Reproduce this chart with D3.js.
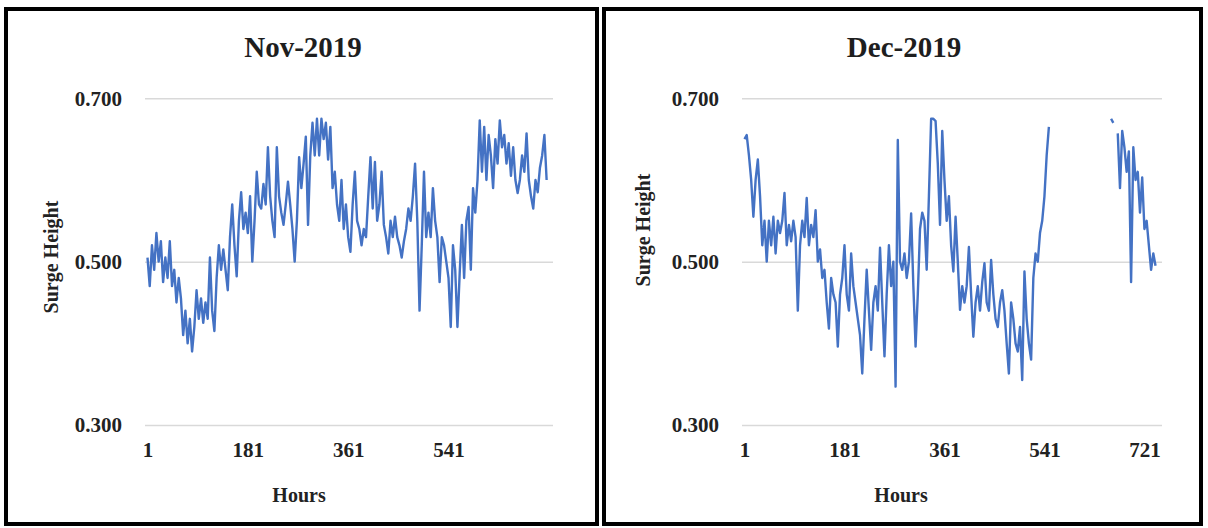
<!DOCTYPE html>
<html>
<head>
<meta charset="utf-8">
<script src="https://cdn.jsdelivr.net/npm/d3@7"></script>
<style>
  body { margin: 0; background: #fff; }
  svg { display: block; }
  .panel-title { font: bold 29px "Liberation Serif", "Times New Roman", serif; fill: #1e1e1e; }
  .axis text { font: bold 21px "Liberation Serif", "Times New Roman", serif; fill: #222; }
  .axis .domain { display: none; }
  .y-axis line { stroke: #d9d9d9; stroke-width: 1.5; }
  .axis-title { font: bold 20px "Liberation Serif", "Times New Roman", serif; fill: #222; }
</style>
</head>
<body>
<svg id="chart" width="1208" height="528"></svg>
<script>
// readings every 4 hours (hour = 1 + 4*i)
const novValues = [
  0.505, 0.47, 0.52, 0.49, 0.535, 0.50, 0.525, 0.475, 0.505, 0.48,
  0.525, 0.47, 0.49, 0.45, 0.48, 0.455, 0.41, 0.44, 0.40, 0.43,
  0.39, 0.42, 0.465, 0.43, 0.455, 0.425, 0.45, 0.43, 0.505, 0.44,
  0.415, 0.48, 0.52, 0.49, 0.515, 0.49, 0.465, 0.53, 0.57, 0.52,
  0.482, 0.55, 0.585, 0.54, 0.56, 0.535, 0.58, 0.50, 0.55, 0.61,
  0.57, 0.565, 0.595, 0.57, 0.64, 0.58, 0.55, 0.53, 0.64, 0.58,
  0.56, 0.545, 0.57, 0.598, 0.57, 0.54, 0.50, 0.55, 0.628, 0.59,
  0.62, 0.653, 0.545, 0.63, 0.67, 0.63, 0.675, 0.63, 0.675, 0.65,
  0.67, 0.625, 0.665, 0.59, 0.61, 0.57, 0.55, 0.60, 0.54, 0.57,
  0.53, 0.512, 0.57, 0.61, 0.55, 0.54, 0.52, 0.54, 0.53, 0.58,
  0.628, 0.565, 0.622, 0.55, 0.57, 0.61, 0.545, 0.53, 0.51, 0.55,
  0.53, 0.555, 0.53, 0.52, 0.505, 0.525, 0.54, 0.565, 0.55, 0.58,
  0.62, 0.55, 0.44, 0.52, 0.61, 0.53, 0.56, 0.53, 0.59, 0.55,
  0.53, 0.475, 0.53, 0.52, 0.50, 0.48, 0.42, 0.52, 0.49, 0.42,
  0.485, 0.545, 0.48, 0.55, 0.567, 0.49, 0.59, 0.56, 0.60, 0.673,
  0.61, 0.665, 0.60, 0.655, 0.63, 0.59, 0.65, 0.62, 0.673, 0.64,
  0.655, 0.62, 0.645, 0.605, 0.64, 0.60, 0.584, 0.60, 0.63, 0.61,
  0.657, 0.60, 0.58, 0.565, 0.60, 0.585, 0.615, 0.63, 0.655, 0.60
]

const decValues = [
  0.65, 0.655, 0.63, 0.60, 0.555, 0.60, 0.625, 0.58, 0.52, 0.55,
  0.50, 0.55, 0.52, 0.555, 0.51, 0.55, 0.535, 0.55, 0.584, 0.52,
  0.545, 0.525, 0.55, 0.53, 0.44, 0.52, 0.55, 0.53, 0.578, 0.52,
  0.545, 0.53, 0.563, 0.50, 0.515, 0.48, 0.49, 0.45, 0.418, 0.48,
  0.46, 0.45, 0.396, 0.46, 0.48, 0.52, 0.46, 0.44, 0.51, 0.47,
  0.45, 0.43, 0.41, 0.363, 0.43, 0.49, 0.44, 0.392, 0.45, 0.47,
  0.44, 0.517, 0.45, 0.384, 0.46, 0.52, 0.47, 0.50, 0.347, 0.649,
  0.50, 0.49, 0.51, 0.48, 0.50, 0.559, 0.47, 0.396, 0.46, 0.54,
  0.56, 0.55, 0.49, 0.58, 0.675, 0.675, 0.672, 0.62, 0.545, 0.66,
  0.60, 0.55, 0.58, 0.52, 0.488, 0.555, 0.50, 0.441, 0.47, 0.45,
  0.47, 0.518, 0.46, 0.408, 0.45, 0.47, 0.44, 0.475, 0.498, 0.45,
  0.44, 0.502, 0.46, 0.43, 0.42, 0.45, 0.465, 0.44, 0.40, 0.363,
  0.45, 0.43, 0.40, 0.39, 0.42, 0.355, 0.488, 0.43, 0.40, 0.38,
  0.48, 0.51, 0.50, 0.535, 0.55, 0.58, 0.63, 0.665,
  null, null, null, null, null, null, null, null, null, null,
  null, null, null, null, null, null, null, null, null, null,
  null, null, null, null, null, null, null,
  0.675, 0.67, null, 0.657, 0.59, 0.66, 0.64, 0.61, 0.635, 0.475,
  0.64, 0.60, 0.61, 0.56, 0.603, 0.54, 0.55, 0.52, 0.49, 0.51, 0.495
]

const hourStep = 4
const novTicks = [1, 181, 361, 541]
const decTicks = [1, 181, 361, 541, 721]
const yTicks = [0.3, 0.5, 0.7]

class SurgePanel {
    constructor(_config, _data) {
        this.config = _config
        this.data = _data
        this.initVis()
    }

    initVis() {
        let vis = this
        let c = vis.config

        vis.g = d3.select('#chart').append('g')

        vis.g.append('rect')
            .attr('x', c.frame.x)
            .attr('y', c.frame.y)
            .attr('width', c.frame.w)
            .attr('height', c.frame.h)
            .attr('fill', '#fff')
            .attr('stroke', '#000')
            .attr('stroke-width', 4)

        vis.xScale = d3.scaleLinear()
            .domain([1, c.hours])
            .range([c.xStart, c.xEnd])
        vis.yScale = d3.scaleLinear()
            .domain([0.3, 0.7])
            .range([425, 98.3])

        vis.yAxis = d3.axisLeft(vis.yScale)
            .tickValues(yTicks)
            .tickFormat(d3.format('.3f'))
            .tickSize(-(c.plotRight - c.plotLeft))
            .tickPadding(23)

        vis.xAxis = d3.axisBottom(vis.xScale)
            .tickValues(c.ticks)
            .tickSize(0)
            .tickPadding(17)

        vis.yAxisG = vis.g.append('g')
            .attr('class', 'axis y-axis')
            .attr('transform', `translate(${c.plotLeft},0)`)

        vis.xAxisG = vis.g.append('g')
            .attr('class', 'axis x-axis')
            .attr('transform', 'translate(0,425)')

        vis.g.append('text')
            .attr('class', 'panel-title')
            .attr('x', c.titleX)
            .attr('y', 57)
            .attr('text-anchor', 'middle')
            .text(c.title)

        vis.g.append('text')
            .attr('class', 'axis-title')
            .attr('x', c.hoursX)
            .attr('y', 502)
            .attr('text-anchor', 'middle')
            .text('Hours')

        vis.g.append('text')
            .attr('class', 'axis-title')
            .attr('transform', `translate(${c.yLabelX},${c.yLabelY}) rotate(-90)`)
            .attr('text-anchor', 'middle')
            .text('Surge Height')

        vis.renderVis()
    }

    renderVis() {
        let vis = this

        vis.yAxisG.call(vis.yAxis)
        vis.xAxisG.call(vis.xAxis)

        let points = vis.data.map((v, i) => ({h: 1 + i * hourStep, v: v}))

        let line = d3.line()
            .defined(d => d.v != null)
            .x(d => vis.xScale(d.h))
            .y(d => vis.yScale(d.v))

        vis.g.append('path')
            .datum(points)
            .attr('fill', 'none')
            .attr('stroke', '#4472c4')
            .attr('stroke-width', 2.4)
            .attr('stroke-linejoin', 'round')
            .attr('d', line)
    }
}

new SurgePanel({
    frame: {x: 6, y: 9, w: 591, h: 515},
    plotLeft: 145, plotRight: 553,
    hours: 720, xStart: 147.5, xEnd: 548.3,
    ticks: novTicks,
    title: 'Nov-2019', titleX: 303,
    hoursX: 299,
    yLabelX: 58, yLabelY: 257
}, novValues)

new SurgePanel({
    frame: {x: 604, y: 9, w: 597, h: 515},
    plotLeft: 742, plotRight: 1162,
    hours: 744, xStart: 744.5, xEnd: 1157.2,
    ticks: decTicks,
    title: 'Dec-2019', titleX: 904,
    hoursX: 901,
    yLabelX: 650, yLabelY: 230
}, decValues)
</script>
</body>
</html>
